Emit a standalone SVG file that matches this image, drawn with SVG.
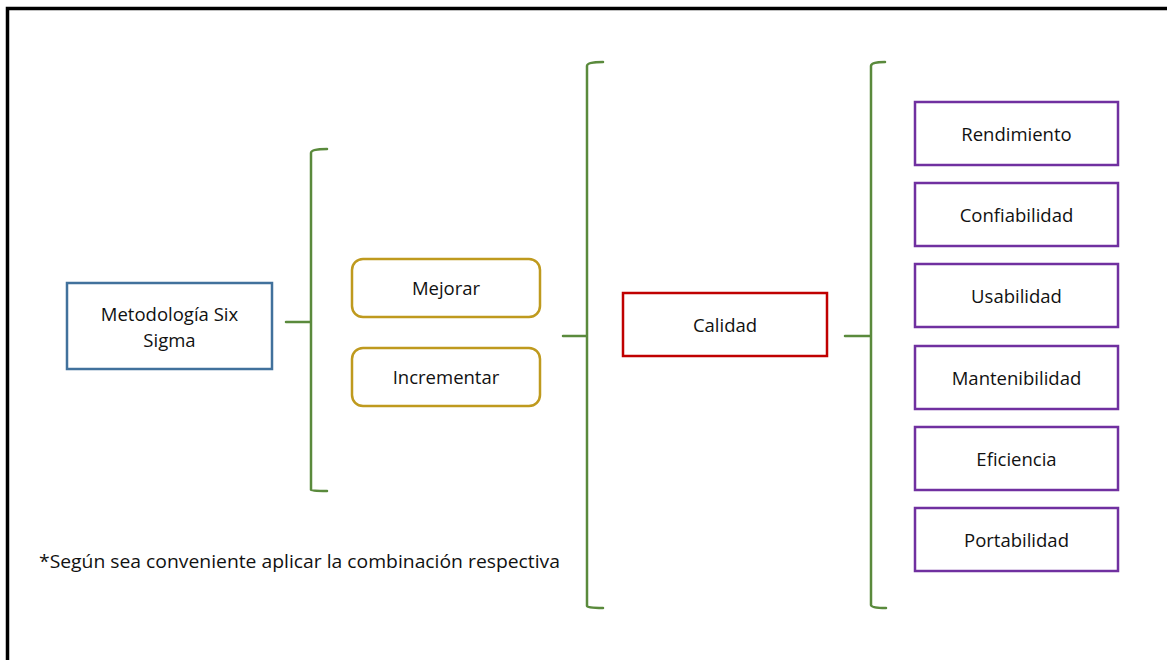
<svg xmlns="http://www.w3.org/2000/svg" width="1167" height="660" viewBox="0 0 1167 660">
  <style>
    .lbl { font-family: "Open Sans", "Liberation Sans", sans-serif; font-size: 18.5px; fill: #111; text-anchor: middle; dominant-baseline: central; }
    .note { font-family: "Open Sans", "Liberation Sans", sans-serif; font-size: 18.5px; fill: #111; }
    .brace { fill: none; stroke: #5a8a3c; stroke-width: 2.5; stroke-linecap: round; stroke-linejoin: round; }
    .blue { fill: #fff; stroke: #41719c; stroke-width: 2.5; }
    .gold { fill: #fff; stroke: #bf9a1e; stroke-width: 2.5; }
    .red { fill: #fff; stroke: #c00000; stroke-width: 2.5; }
    .purple { fill: #fff; stroke: #7030a0; stroke-width: 2.5; }
  </style>
  <rect width="1167" height="660" fill="#fff"/>
  <!-- outer frame -->
  <path d="M7.5 662 V8.5 H1170" fill="none" stroke="#000" stroke-width="3.5"/>

  <!-- connectors: curly brackets -->
  <g id="connectors">
    <path class="brace" d="M327 149 Q311 149 311 153 V490 Q311 491 327 491 M286 322 H311"/>
    <path class="brace" d="M603 62 Q587 62 587 66 V606 Q587 608 603 608 M563 336 H587"/>
    <path class="brace" d="M885 62 Q871 62 871 66 V605 Q871 608 886 608 M845 336 H871"/>
  </g>

  <g id="six-sigma">
    <rect class="blue" x="67" y="283" width="205" height="86"/>
    <text class="lbl" x="169.5" y="313">Metodología Six</text>
    <text class="lbl" x="169.5" y="339">Sigma</text>
  </g>
  <g id="mejorar">
    <rect class="gold" x="352" y="259" width="188" height="58" rx="11"/>
    <text class="lbl" x="446" y="287">Mejorar</text>
  </g>
  <g id="incrementar">
    <rect class="gold" x="352" y="348" width="188" height="58" rx="11"/>
    <text class="lbl" x="446" y="376">Incrementar</text>
  </g>
  <g id="calidad">
    <rect class="red" x="623" y="293" width="204" height="63"/>
    <text class="lbl" x="725" y="324">Calidad</text>
  </g>
  <g id="rendimiento">
    <rect class="purple" x="915" y="102" width="203" height="63"/>
    <text class="lbl" x="1016.5" y="133">Rendimiento</text>
  </g>
  <g id="confiabilidad">
    <rect class="purple" x="915" y="183" width="203" height="63"/>
    <text class="lbl" x="1016.5" y="214">Confiabilidad</text>
  </g>
  <g id="usabilidad">
    <rect class="purple" x="915" y="264" width="203" height="63"/>
    <text class="lbl" x="1016.5" y="295">Usabilidad</text>
  </g>
  <g id="mantenibilidad">
    <rect class="purple" x="915" y="346" width="203" height="63"/>
    <text class="lbl" x="1016.5" y="377">Mantenibilidad</text>
  </g>
  <g id="eficiencia">
    <rect class="purple" x="915" y="427" width="203" height="63"/>
    <text class="lbl" x="1016.5" y="458">Eficiencia</text>
  </g>
  <g id="portabilidad">
    <rect class="purple" x="915" y="508" width="203" height="63"/>
    <text class="lbl" x="1016.5" y="539">Portabilidad</text>
  </g>

  <text class="note" x="39" y="568" textLength="521" lengthAdjust="spacingAndGlyphs">*Según sea conveniente aplicar la combinación respectiva</text>
</svg>
